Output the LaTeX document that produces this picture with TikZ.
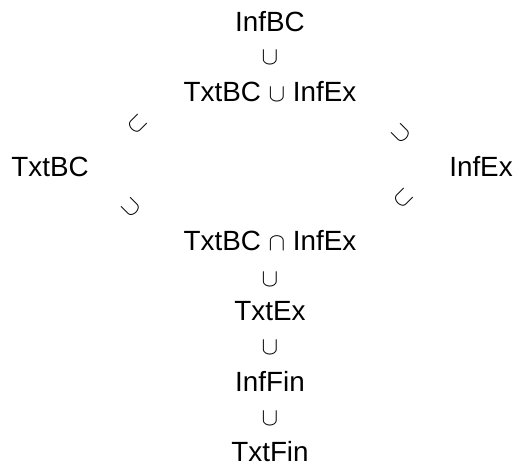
\documentclass[tikz,border=0pt]{standalone}
\usepackage{fontspec}
\setmainfont{Liberation Sans}
\newcommand\relsym[1]{{\fontsize{27}{30}\selectfont$#1$}}
\begin{document}
\begin{tikzpicture}[x=1pt,y=-1pt,
  lbl/.style={inner sep=0pt, anchor=base, font=\fontsize{27.8}{30}\selectfont},
  rel/.style={inner sep=0pt, anchor=center}]
\useasboundingbox (0,0) rectangle (516,468);
% column labels
\node[lbl] (infbc)  at (270,32)  {InfBC};
\node[lbl] (uni)    at (270,102) {TxtBC \relsym{\cup} InfEx};
\node[lbl] (txtbc)  at (50,176)  {TxtBC};
\node[lbl] (infex)  at (481,176) {InfEx};
\node[lbl] (inter)  at (270,250) {TxtBC \relsym{\cap} InfEx};
\node[lbl] (txtex)  at (270,320) {TxtEx};
\node[lbl] (inffin) at (270,391) {InfFin};
\node[lbl] (txtfin) at (270,461) {TxtFin};
% vertical inclusion symbols
\node[rel] (r1) at (270,57.5) {\relsym{\cup}};
\node[rel] (r2) at (270,280)  {\relsym{\cup}};
\node[rel] (r3) at (270,348)  {\relsym{\cup}};
\node[rel] (r4) at (270,419)  {\relsym{\cup}};
% diagonal inclusion symbols
\node[rel, rotate=-45] (dul) at (137,124) {\relsym{\cup}};
\node[rel, rotate=45]  (dll) at (131,208) {\relsym{\cup}};
\node[rel, rotate=45]  (dur) at (401,134) {\relsym{\cup}};
\node[rel, rotate=-45] (dlr) at (403,198) {\relsym{\cup}};
\end{tikzpicture}
\end{document}
